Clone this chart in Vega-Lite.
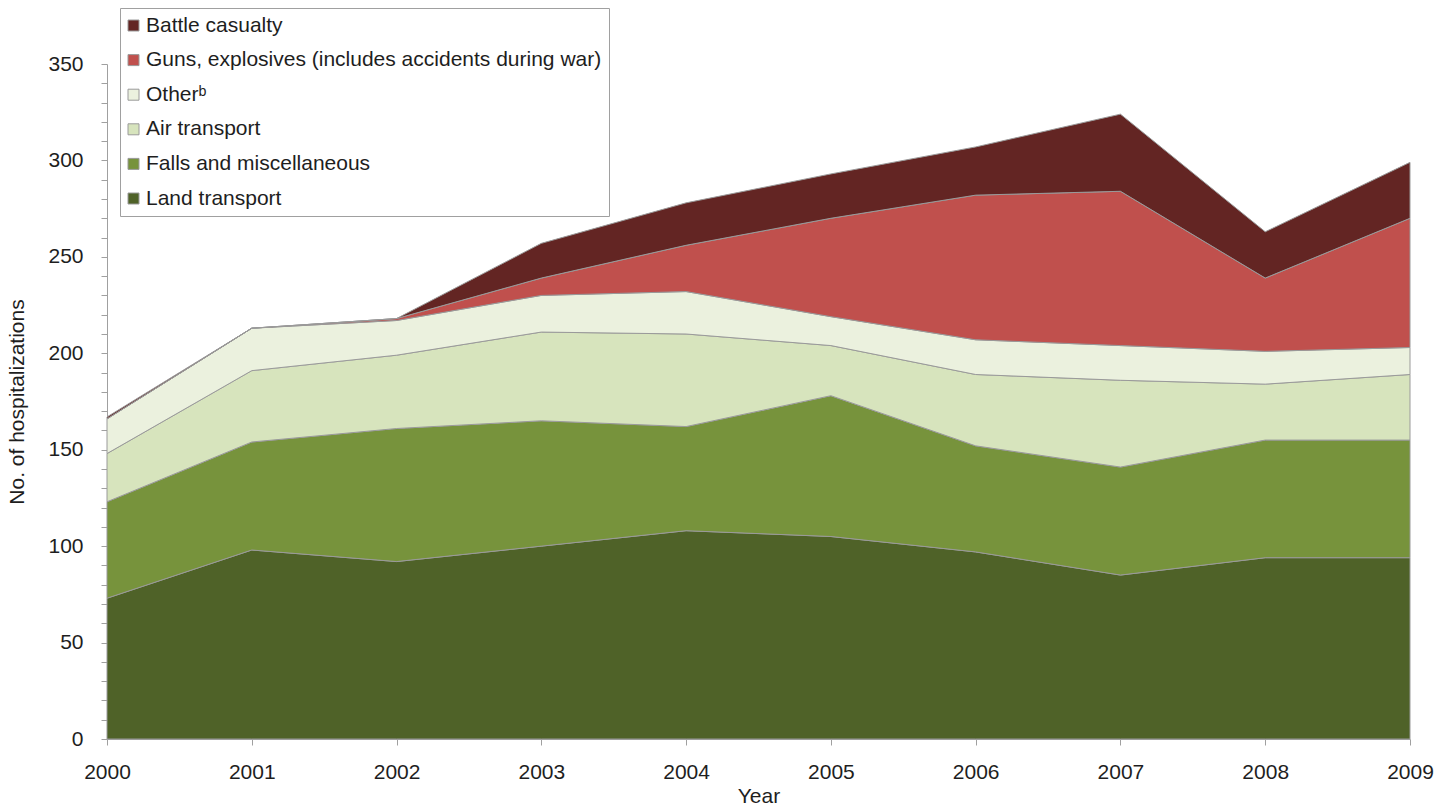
{
  "$schema": "https://vega.github.io/schema/vega-lite/v6.json",
  "autosize": "none",
  "width": 1303,
  "height": 675,
  "padding": {"left": 107, "top": 64, "right": 41, "bottom": 71},
  "background": "white",
  "config": {
    "view": {"stroke": null},
    "font": "Liberation Sans",
    "axis": {"labelFont": "Liberation Sans", "titleFont": "Liberation Sans", "labelColor": "#1e1e1e", "titleColor": "#1e1e1e", "labelFontSize": 21, "titleFontSize": 21, "titleFontWeight": "normal", "domainColor": "#a0a0a0", "tickColor": "#a0a0a0", "grid": false, "tickSize": 6}
  },
  "datasets": {
    "causes": [
      {"cause": "Land transport", "rank": 1},
      {"cause": "Falls and miscellaneous", "rank": 2},
      {"cause": "Air transport", "rank": 3},
      {"cause": "Otherᵇ", "rank": 4},
      {"cause": "Guns, explosives (includes accidents during war)", "rank": 5},
      {"cause": "Battle casualty", "rank": 6}
    ]
  },
  "data": {
    "values": [
      {"year": 2000, "cause": "Land transport", "n": 73},
      {"year": 2000, "cause": "Falls and miscellaneous", "n": 50},
      {"year": 2000, "cause": "Air transport", "n": 25},
      {"year": 2000, "cause": "Otherᵇ", "n": 18},
      {"year": 2000, "cause": "Guns, explosives (includes accidents during war)", "n": 0},
      {"year": 2000, "cause": "Battle casualty", "n": 1},
      {"year": 2001, "cause": "Land transport", "n": 98},
      {"year": 2001, "cause": "Falls and miscellaneous", "n": 56},
      {"year": 2001, "cause": "Air transport", "n": 37},
      {"year": 2001, "cause": "Otherᵇ", "n": 22},
      {"year": 2001, "cause": "Guns, explosives (includes accidents during war)", "n": 0},
      {"year": 2001, "cause": "Battle casualty", "n": 0},
      {"year": 2002, "cause": "Land transport", "n": 92},
      {"year": 2002, "cause": "Falls and miscellaneous", "n": 69},
      {"year": 2002, "cause": "Air transport", "n": 38},
      {"year": 2002, "cause": "Otherᵇ", "n": 18},
      {"year": 2002, "cause": "Guns, explosives (includes accidents during war)", "n": 1},
      {"year": 2002, "cause": "Battle casualty", "n": 0},
      {"year": 2003, "cause": "Land transport", "n": 100},
      {"year": 2003, "cause": "Falls and miscellaneous", "n": 65},
      {"year": 2003, "cause": "Air transport", "n": 46},
      {"year": 2003, "cause": "Otherᵇ", "n": 19},
      {"year": 2003, "cause": "Guns, explosives (includes accidents during war)", "n": 9},
      {"year": 2003, "cause": "Battle casualty", "n": 18},
      {"year": 2004, "cause": "Land transport", "n": 108},
      {"year": 2004, "cause": "Falls and miscellaneous", "n": 54},
      {"year": 2004, "cause": "Air transport", "n": 48},
      {"year": 2004, "cause": "Otherᵇ", "n": 22},
      {"year": 2004, "cause": "Guns, explosives (includes accidents during war)", "n": 24},
      {"year": 2004, "cause": "Battle casualty", "n": 22},
      {"year": 2005, "cause": "Land transport", "n": 105},
      {"year": 2005, "cause": "Falls and miscellaneous", "n": 73},
      {"year": 2005, "cause": "Air transport", "n": 26},
      {"year": 2005, "cause": "Otherᵇ", "n": 15},
      {"year": 2005, "cause": "Guns, explosives (includes accidents during war)", "n": 51},
      {"year": 2005, "cause": "Battle casualty", "n": 23},
      {"year": 2006, "cause": "Land transport", "n": 97},
      {"year": 2006, "cause": "Falls and miscellaneous", "n": 55},
      {"year": 2006, "cause": "Air transport", "n": 37},
      {"year": 2006, "cause": "Otherᵇ", "n": 18},
      {"year": 2006, "cause": "Guns, explosives (includes accidents during war)", "n": 75},
      {"year": 2006, "cause": "Battle casualty", "n": 25},
      {"year": 2007, "cause": "Land transport", "n": 85},
      {"year": 2007, "cause": "Falls and miscellaneous", "n": 56},
      {"year": 2007, "cause": "Air transport", "n": 45},
      {"year": 2007, "cause": "Otherᵇ", "n": 18},
      {"year": 2007, "cause": "Guns, explosives (includes accidents during war)", "n": 80},
      {"year": 2007, "cause": "Battle casualty", "n": 40},
      {"year": 2008, "cause": "Land transport", "n": 94},
      {"year": 2008, "cause": "Falls and miscellaneous", "n": 61},
      {"year": 2008, "cause": "Air transport", "n": 29},
      {"year": 2008, "cause": "Otherᵇ", "n": 17},
      {"year": 2008, "cause": "Guns, explosives (includes accidents during war)", "n": 38},
      {"year": 2008, "cause": "Battle casualty", "n": 24},
      {"year": 2009, "cause": "Land transport", "n": 94},
      {"year": 2009, "cause": "Falls and miscellaneous", "n": 61},
      {"year": 2009, "cause": "Air transport", "n": 34},
      {"year": 2009, "cause": "Otherᵇ", "n": 14},
      {"year": 2009, "cause": "Guns, explosives (includes accidents during war)", "n": 67},
      {"year": 2009, "cause": "Battle casualty", "n": 29}
    ]
  },
  "transform": [
    {"lookup": "cause", "from": {"data": {"name": "causes"}, "key": "cause", "fields": ["rank"]}}
  ],
  "mark": {"type": "area", "interpolate": "linear", "stroke": "#9a9a9a", "strokeWidth": 1, "opacity": 1, "fillOpacity": 1},
  "encoding": {
    "x": {
      "field": "year", "type": "quantitative",
      "scale": {"domain": [2000, 2009], "nice": false, "zero": false},
      "axis": {"values": [2000, 2001, 2002, 2003, 2004, 2005, 2006, 2007, 2008, 2009], "format": "d", "title": "Year", "labelPadding": 16, "titlePadding": 3, "labelFlush": false}
    },
    "y": {
      "field": "n", "type": "quantitative", "stack": "zero",
      "scale": {"domain": [0, 350], "nice": false},
      "axis": {"values": [0,10,20,30,40,50,60,70,80,90,100,110,120,130,140,150,160,170,180,190,200,210,220,230,240,250,260,270,280,290,300,310,320,330,340,350], "labelExpr": "datum.value % 50 === 0 ? datum.label : ''", "title": "No. of hospitalizations", "labelPadding": 18, "titlePadding": 20}
    },
    "color": {
      "field": "cause", "type": "nominal",
      "sort": ["Battle casualty", "Guns, explosives (includes accidents during war)", "Otherᵇ", "Air transport", "Falls and miscellaneous", "Land transport"],
      "scale": {
        "domain": ["Battle casualty", "Guns, explosives (includes accidents during war)", "Otherᵇ", "Air transport", "Falls and miscellaneous", "Land transport"],
        "range": ["#632523", "#c0504d", "#ebf1de", "#d7e4bd", "#77933c", "#4f6228"]
      },
      "legend": {
        "title": null, "orient": "none", "legendX": 13, "legendY": -56,
        "direction": "vertical",
        "fillColor": "white", "strokeColor": "#a0a0a0", "padding": 7,
        "symbolType": "square", "symbolSize": 121, "symbolStrokeColor": "#9a9a9a", "symbolStrokeWidth": 1, "symbolOpacity": 1, "symbolOffset": -4,
        "labelFont": "Liberation Sans", "labelFontSize": 21, "labelColor": "#1e1e1e", "labelLimit": 800, "labelOffset": 2,
        "rowPadding": 12.6
      }
    },
    "order": {"field": "rank", "type": "quantitative", "sort": "ascending"}
  }
}
